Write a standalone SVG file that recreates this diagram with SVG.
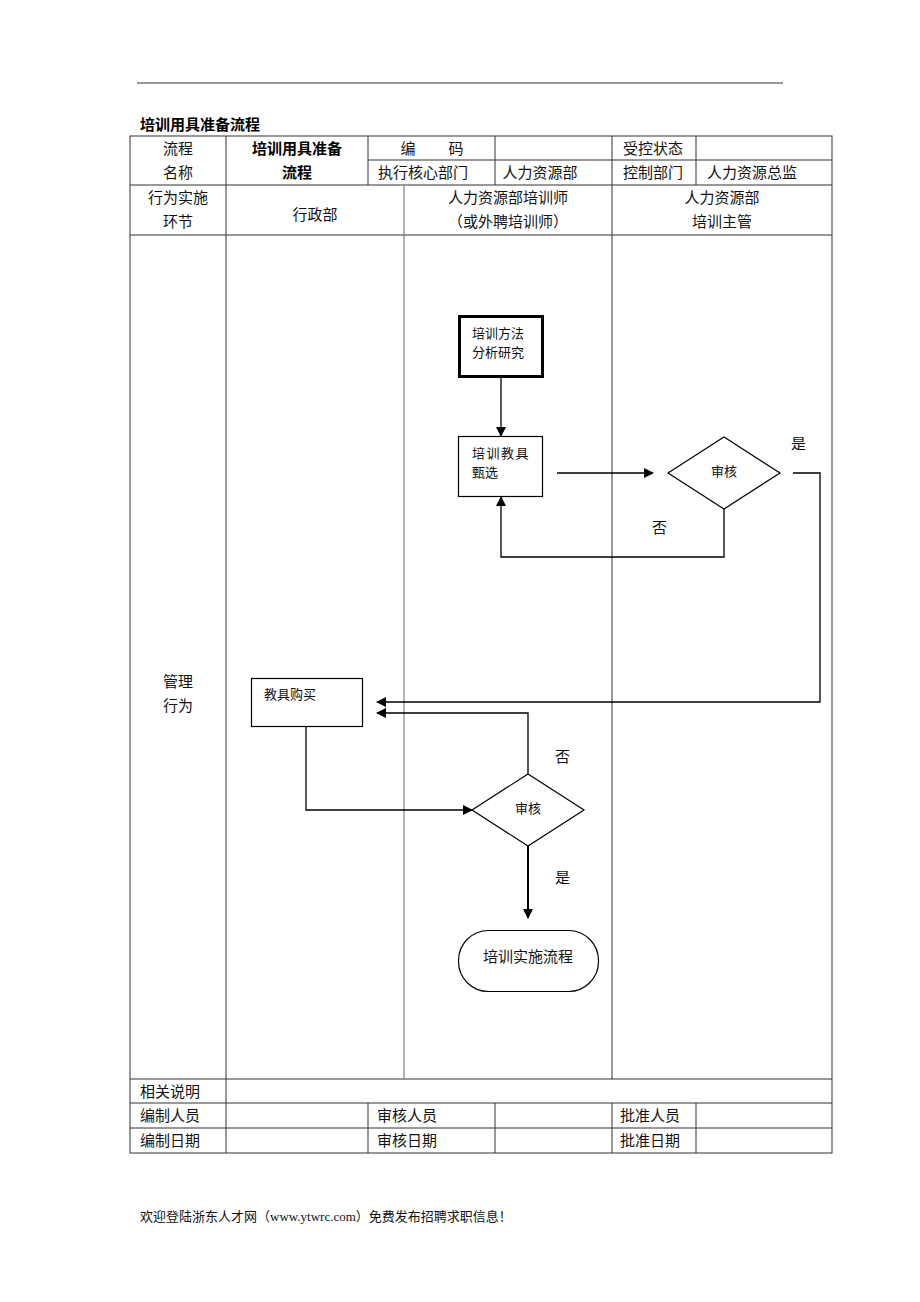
<svg xmlns="http://www.w3.org/2000/svg" width="920" height="1302" viewBox="0 0 920 1302">
<style>
.t{font-family:"Liberation Serif","Noto Sans CJK SC",serif;font-size:15px;fill:#111}
.c{text-anchor:middle}
.b{font-family:"Noto Sans CJK SC",sans-serif;font-weight:bold;font-size:15px;fill:#000}
.n{font-family:"Liberation Serif","Noto Sans CJK SC",serif;font-size:13px;fill:#111}
.g{stroke:#333;stroke-width:1;fill:none}
.ln{stroke:#000;stroke-width:1.3;fill:none}
.box{fill:#fff;stroke:#000;stroke-width:1.2}
</style>
<defs>
<marker id="ah" markerWidth="10" markerHeight="10" refX="9" refY="5" orient="auto" markerUnits="userSpaceOnUse">
<path d="M0,0 L10,5 L0,10 z" fill="#000"/>
</marker>
</defs>
<rect width="920" height="1302" fill="#fff"/>
<line x1="137" y1="83" x2="783" y2="83" stroke="#333" stroke-width="1"/>
<text class="b" x="140" y="130">培训用具准备流程</text>

<g id="table">
<rect x="130" y="136" width="702" height="1017" class="g"/>
<line x1="368" y1="160" x2="832" y2="160" class="g"/>
<line x1="130" y1="185" x2="832" y2="185" class="g"/>
<line x1="130" y1="235" x2="832" y2="235" class="g"/>
<line x1="130" y1="1079" x2="832" y2="1079" class="g"/>
<line x1="130" y1="1103" x2="832" y2="1103" class="g"/>
<line x1="130" y1="1128" x2="832" y2="1128" class="g"/>
<line x1="226" y1="136" x2="226" y2="1153" class="g"/>
<line x1="368" y1="136" x2="368" y2="185" class="g"/>
<line x1="495" y1="136" x2="495" y2="185" class="g"/>
<line x1="612" y1="136" x2="612" y2="1079" class="g"/>
<line x1="696" y1="136" x2="696" y2="185" class="g"/>
<line x1="404" y1="185" x2="404" y2="1079" stroke="#666" stroke-width="1"/>
<line x1="368" y1="1103" x2="368" y2="1153" class="g"/>
<line x1="495" y1="1103" x2="495" y2="1153" class="g"/>
<line x1="612" y1="1103" x2="612" y2="1153" class="g"/>
<line x1="696" y1="1103" x2="696" y2="1153" class="g"/>
<text class="t c" x="178" y="154">流程</text>
<text class="t c" x="178" y="178">名称</text>
<text class="b c" x="297" y="154">培训用具准备</text>
<text class="b c" x="297" y="178">流程</text>
<text class="t c" x="408" y="154">编</text>
<text class="t c" x="456" y="154">码</text>
<text class="t c" x="423" y="178">执行核心部门</text>
<text class="t c" x="540" y="178">人力资源部</text>
<text class="t c" x="653" y="154">受控状态</text>
<text class="t c" x="653" y="178">控制部门</text>
<text class="t c" x="752" y="178">人力资源总监</text>
<text class="t c" x="178" y="203">行为实施</text>
<text class="t c" x="178" y="227">环节</text>
<text class="t c" x="315" y="220">行政部</text>
<text class="t c" x="508" y="203">人力资源部培训师</text>
<text class="t c" x="508" y="227">（或外聘培训师）</text>
<text class="t c" x="722" y="203">人力资源部</text>
<text class="t c" x="722" y="227">培训主管</text>
<text class="t c" x="178" y="687">管理</text>
<text class="t c" x="178" y="711">行为</text>
<text class="t" x="140" y="1097">相关说明</text>
<text class="t" x="140" y="1121">编制人员</text>
<text class="t" x="140" y="1146">编制日期</text>
<text class="t" x="377" y="1121">审核人员</text>
<text class="t" x="377" y="1146">审核日期</text>
<text class="t" x="620" y="1121">批准人员</text>
<text class="t" x="620" y="1146">批准日期</text>
</g>

<g id="connectors">
<line x1="501" y1="377" x2="501" y2="436" class="ln" marker-end="url(#ah)"/>
<line x1="557" y1="473" x2="653" y2="473" class="ln" marker-end="url(#ah)"/>
<polyline points="724,509 724,557 501,557 501,497" class="ln" marker-end="url(#ah)"/>
<polyline points="793,473 820,473 820,702 377,702" class="ln" marker-end="url(#ah)"/>
<polyline points="528,774 528,713 377,713" class="ln" marker-end="url(#ah)"/>
<polyline points="306,727 306,810 472,810" class="ln" marker-end="url(#ah)"/>
<line x1="528" y1="846" x2="528" y2="918" stroke="#000" stroke-width="2" marker-end="url(#ah)"/>
<text class="t" x="791" y="449">是</text>
<text class="t" x="652" y="533">否</text>
<text class="t" x="555" y="762">否</text>
<text class="t" x="555" y="883">是</text>
</g>

<g id="n1">
<rect x="459.5" y="316.5" width="83" height="60" fill="#fff" stroke="#000" stroke-width="3"/>
<text class="n" x="472" y="338">培训方法</text>
<text class="n" x="472" y="357">分析研究</text>
</g>
<g id="n2">
<rect x="458.5" y="436.5" width="84" height="60" class="box"/>
<text class="n" x="472" y="458" letter-spacing="1.5">培训教具</text>
<text class="n" x="472" y="477">甄选</text>
</g>
<g id="d1">
<polygon points="668,473 724,437 780,473 724,509" class="box"/>
<text class="n c" x="724" y="476">审核</text>
</g>
<g id="n3">
<rect x="251.5" y="678.5" width="111" height="48" class="box"/>
<text class="n" x="264" y="699">教具购买</text>
</g>
<g id="d2">
<polygon points="472,810 528,774 584,810 528,846" class="box"/>
<text class="n c" x="528" y="813">审核</text>
</g>
<g id="n4">
<rect x="458.5" y="930.5" width="140" height="61" rx="30" ry="30" class="box"/>
<text class="t c" x="528" y="962">培训实施流程</text>
</g>

<text class="n" x="140" y="1221">欢迎登陆浙东人才网（www.ytwrc.com）免费发布招聘求职信息！</text>
</svg>
